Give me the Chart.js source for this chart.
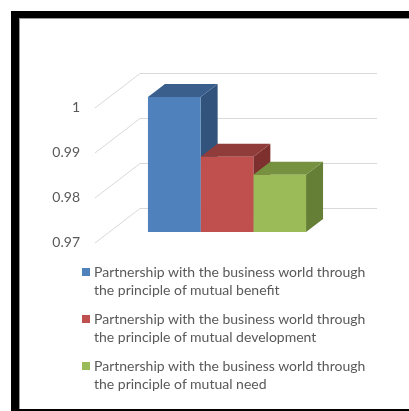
<!DOCTYPE html>
<html>
<head>
<meta charset="utf-8">
<script src="https://cdn.jsdelivr.net/npm/chart.js@4.4.1/dist/chart.umd.min.js"></script>
<style>
    body { margin: 0; background: #fff; overflow: hidden; }
    #wrap { position: relative; width: 409px; height: 411px; }
    #frame {
        position: absolute; left: 11px; top: 11px; width: 420px; height: 391px;
        border-left: 8px solid #000; border-top: 7px solid #000; border-bottom: 2px solid #000;
        box-shadow: inset 1px 1px 0 #9a9a9a;
    }
    #bar_chart { position: absolute; left: 0; top: 0; }
    #legend {
        position: absolute; left: 82px; top: 263px;
        font-family: Lato, "Open Sans", sans-serif; font-size: 14px; color: #595959;
    }
    #legend .item { position: relative; padding-left: 12px; line-height: 18px; margin-bottom: 11px; }
    #legend .box { position: absolute; left: 0; top: 5px; width: 8px; height: 8px; }
</style>
</head>
<body>
<div id="wrap">
    <div id="frame"></div>
    <canvas id="bar_chart" width="409" height="411"></canvas>
    <div id="legend"></div>
</div>
<script>
// datos
const categories = [''];
const seriesNames = [
    ['Partnership with the business world through', 'the principle of mutual benefit'],
    ['Partnership with the business world through', 'the principle of mutual development'],
    ['Partnership with the business world through', 'the principle of mutual need']
];
const seriesValues = [1.0, 0.9867, 0.9827];
const tickValues = [0.97, 0.98, 0.99, 1];
const axisMin = 0.97;
const axisMax = 1;

// colores: cara frontal, cara superior, cara lateral
const frontColors = ['#4F81BD', '#C0504D', '#9BBB59'];
const topColors = ['#3B5F8D', '#8F3C3A', '#769240'];
const sideColors = ['#32537C', '#7D302E', '#667F37'];

// desplazamientos oblicuos respecto al plano de las barras
const FRONT = { dx: -13.5, dy: 10.5 };
const BACK = { dx: 31.5, dy: -24 };
const DEPTH = { dx: 17, dy: -13 };

function poly(ctx, pts, color) {
    ctx.beginPath();
    ctx.moveTo(pts[0][0], pts[0][1]);
    for (let i = 1; i < pts.length; i++) ctx.lineTo(pts[i][0], pts[i][1]);
    ctx.closePath();
    ctx.fillStyle = color;
    ctx.fill();
}

// paredes, rejilla y caras laterales/superiores antes de las caras frontales
const pseudo3d = {
    id: 'pseudo3d',
    beforeDatasetsDraw(chart) {
        const ctx = chart.ctx;
        const a = chart.chartArea;
        const y = chart.scales.y;
        ctx.save();
        ctx.strokeStyle = '#D9D9D9';
        ctx.lineWidth = 1;
        tickValues.forEach(v => {
            const py = Math.round(y.getPixelForValue(v)) + 0.5;
            ctx.beginPath();
            ctx.moveTo(a.left + FRONT.dx, py + FRONT.dy);
            ctx.lineTo(a.left + BACK.dx, py + BACK.dy);
            ctx.lineTo(a.right + BACK.dx, py + BACK.dy);
            ctx.stroke();
        });
        chart.data.datasets.forEach((ds, i) => {
            const el = chart.getDatasetMeta(i).data[0];
            const l = el.x - el.width / 2;
            const r = el.x + el.width / 2;
            const t = el.y;
            const b = el.base;
            poly(ctx, [[r, t], [r + DEPTH.dx, t + DEPTH.dy], [r + DEPTH.dx, b + DEPTH.dy], [r, b]], sideColors[i]);
            poly(ctx, [[l, t], [l + DEPTH.dx, t + DEPTH.dy], [r + DEPTH.dx, t + DEPTH.dy], [r, t]], topColors[i]);
        });
        ctx.restore();
    }
};

const chart = new Chart(document.getElementById('bar_chart').getContext('2d'), {
    type: 'bar',
    data: {
        labels: categories,
        datasets: seriesNames.map((name, i) => ({
            label: name,
            data: [seriesValues[i]],
            base: axisMin,
            backgroundColor: frontColors[i],
            borderWidth: 0,
            categoryPercentage: 0.667,
            barPercentage: 1,
            clip: false
        }))
    },
    options: {
        responsive: false,
        animation: false,
        layout: { padding: { top: 97, bottom: 179, left: 0, right: 63.5 } },
        plugins: { legend: { display: false }, tooltip: { enabled: false } },
        scales: {
            x: { display: false },
            y: {
                min: axisMin,
                max: axisMax,
                grid: { display: false, drawTicks: false },
                border: { display: false },
                afterFit(scale) { scale.width = 108.5; },
                afterBuildTicks(scale) { scale.ticks = tickValues.map(v => ({ value: v })); },
                ticks: {
                    padding: 28.5,
                    labelOffset: 10.5,
                    color: '#595959',
                    font: { family: 'Lato', size: 14 },
                    callback: v => String(+Number(v).toFixed(2))
                }
            }
        }
    },
    plugins: [pseudo3d]
});

// leyenda
const legend = document.getElementById('legend');
chart.data.datasets.forEach(ds => {
    const item = document.createElement('div');
    item.className = 'item';
    const box = document.createElement('span');
    box.className = 'box';
    box.style.background = ds.backgroundColor;
    item.appendChild(box);
    ds.label.forEach((line, k) => {
        if (k) item.appendChild(document.createElement('br'));
        item.appendChild(document.createTextNode(line));
    });
    legend.appendChild(item);
});
</script>
</body>
</html>
